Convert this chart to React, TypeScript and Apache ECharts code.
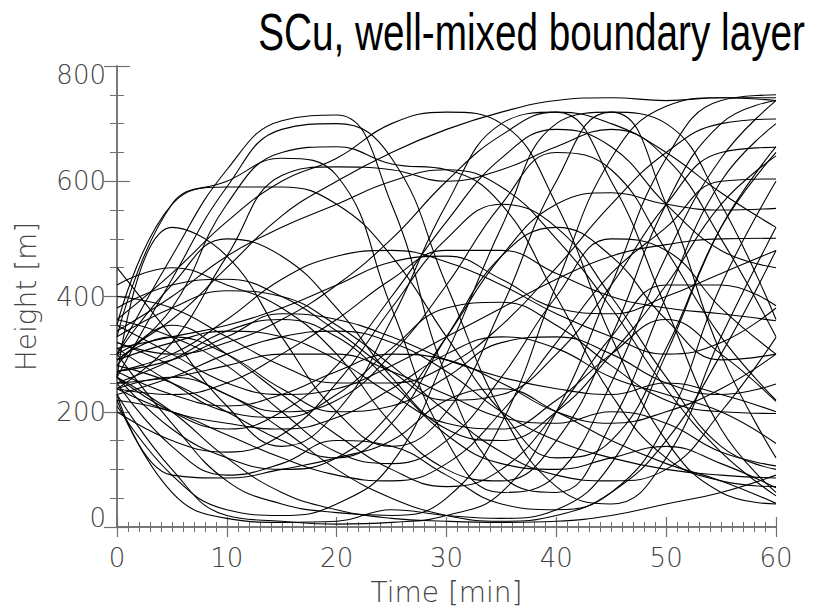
import React, { useEffect, useRef } from "react";
import * as echarts from "echarts";

const times = [0, 5, 10, 15, 20, 25, 30, 35, 40, 45, 50, 55, 60];
const xTicks = [0, 10, 20, 30, 40, 50, 60];
const yTicks = [0, 200, 400, 600, 800];

const tr01 = [300, 470, 620, 705, 715, 560, 260, 90, 60, 180, 400, 600, 700];
const tr02 = [260, 430, 590, 690, 700, 640, 420, 200, 70, 40, 120, 330, 520];
const tr03 = [330, 560, 600, 640, 610, 380, 150, 60, 90, 250, 470, 640, 740];
const tr04 = [290, 380, 560, 650, 660, 630, 620, 560, 400, 230, 120, 80, 70];
const tr05 = [240, 320, 470, 610, 625, 620, 600, 620, 660, 690, 640, 500, 330];
const tr06 = [350, 560, 590, 590, 560, 470, 330, 200, 120, 150, 310, 520, 650];
const tr07 = [260, 520, 470, 330, 200, 140, 200, 380, 600, 720, 700, 560, 360];
const tr08 = [230, 100, 20, 10, 5, 8, 20, 60, 200, 420, 640, 740, 750];
const tr09 = [220, 60, 15, 8, 10, 30, 20, 15, 30, 110, 300, 520, 660];
const tr10 = [250, 140, 90, 110, 150, 140, 90, 40, 30, 60, 180, 420, 600];
const tr11 = [210, 90, 30, 20, 40, 110, 300, 520, 700, 720, 560, 300, 120];
const tr12 = [300, 180, 80, 40, 25, 20, 50, 180, 420, 640, 730, 745, 745];
const tr13 = [280, 250, 200, 150, 120, 180, 330, 470, 520, 470, 360, 290, 300];
const tr14 = [310, 330, 350, 380, 420, 460, 470, 430, 380, 370, 400, 440, 480];
const tr15 = [270, 290, 330, 370, 360, 330, 290, 260, 240, 230, 250, 230, 200];
const tr16 = [240, 200, 180, 170, 190, 240, 300, 330, 310, 260, 230, 200, 145];
const tr17 = [420, 450, 420, 380, 300, 180, 100, 80, 150, 330, 560, 700, 740];
const tr18 = [450, 330, 210, 140, 200, 360, 560, 700, 720, 600, 380, 170, 60];
const tr19 = [360, 440, 530, 600, 640, 700, 720, 700, 560, 330, 150, 60, 40];
const tr20 = [300, 360, 450, 540, 600, 650, 690, 720, 740, 745, 740, 745, 740];
const tr21 = [270, 300, 360, 430, 470, 480, 460, 420, 370, 330, 300, 320, 380];
const tr22 = [230, 260, 300, 330, 340, 320, 270, 200, 150, 120, 100, 90, 85];
const tr23 = [320, 280, 230, 200, 220, 300, 420, 560, 650, 620, 480, 330, 220];
const tr24 = [260, 170, 120, 100, 120, 200, 330, 470, 560, 580, 560, 550, 553];
const tr25 = [200, 150, 130, 160, 250, 380, 500, 560, 520, 400, 260, 140, 100];
const tr26 = [350, 300, 250, 230, 240, 280, 330, 380, 430, 470, 490, 500, 501];
const tr27 = [290, 330, 300, 240, 200, 210, 260, 320, 330, 300, 250, 230, 248];
const tr28 = [380, 420, 430, 400, 340, 270, 220, 230, 300, 420, 560, 650, 659];
const tr29 = [240, 230, 250, 300, 360, 430, 480, 480, 440, 400, 380, 370, 358];
const tr30 = [330, 380, 410, 400, 350, 280, 200, 130, 90, 80, 100, 200, 329];
const tr31 = [260, 200, 170, 200, 280, 400, 530, 640, 690, 660, 560, 480, 450];
const tr32 = [280, 350, 300, 230, 160, 100, 70, 100, 200, 330, 420, 420, 384];
const tr33 = [310, 250, 200, 190, 230, 310, 380, 390, 350, 280, 220, 200, 197];
const tr34 = [250, 290, 340, 360, 330, 250, 160, 110, 100, 120, 140, 110, 68];
const tr35 = [300, 420, 500, 470, 380, 260, 170, 150, 200, 300, 420, 560, 644];
const tr36 = [340, 400, 470, 520, 560, 600, 620, 590, 500, 380, 240, 130, 54];
const tr37 = [230, 90, 85, 100, 120, 150, 220, 240, 200, 150, 110, 80, 41];
const tr38 = [270, 230, 210, 230, 270, 300, 290, 250, 200, 180, 200, 240, 300];
const tr39 = [400, 380, 330, 280, 250, 250, 280, 350, 450, 560, 650, 700, 708];
const tr40 = [220, 200, 160, 120, 90, 80, 110, 200, 320, 440, 520, 600, 604];
const tr41 = [290, 320, 340, 330, 290, 230, 180, 170, 220, 300, 360, 300, 218];
const tr42 = [360, 330, 280, 200, 130, 110, 150, 260, 400, 500, 480, 380, 300];
const tr43 = [250, 260, 280, 300, 300, 270, 230, 190, 180, 200, 180, 130, 106];
const tr44 = [320, 300, 320, 360, 420, 500, 600, 680, 720, 700, 650, 580, 520];
const tr45 = [260, 200, 120, 60, 30, 15, 10, 8, 10, 20, 40, 60, 90];
const tr46 = [240, 260, 230, 170, 100, 50, 20, 10, 20, 60, 150, 300, 480];

const trajectories = [
  tr01, tr02, tr03, tr04, tr05, tr06, tr07, tr08, tr09, tr10, tr11, tr12,
  tr13, tr14, tr15, tr16, tr17, tr18, tr19, tr20, tr21, tr22, tr23, tr24,
  tr25, tr26, tr27, tr28, tr29, tr30, tr31, tr32, tr33, tr34, tr35, tr36,
  tr37, tr38, tr39, tr40, tr41, tr42, tr43, tr44, tr45, tr46,
];

const titleText = "SCu, well-mixed boundary layer";
const labelFont = "'DejaVu Sans', 'Noto Sans', sans-serif";
const axisGray = "#707070";
const labelGray = "#444444";

export default function App() {
  const ref = useRef<HTMLDivElement>(null);
  useEffect(() => {
    if (!ref.current) return;
    const chart = echarts.init(ref.current, undefined, { renderer: "svg" });
    const commonLine = { show: true, lineStyle: { color: axisGray, width: 1.5 } };
    const labelStyle = { fontFamily: labelFont, fontWeight: 200, fontSize: 26, color: labelGray };
    const option = {
      animation: false,
      backgroundColor: "#ffffff",
      graphic: [
        {
          type: "text",
          x: 805,
          y: 32,
          scaleX: 0.745,
          silent: true,
          style: {
            text: titleText,
            textAlign: "right",
            textVerticalAlign: "middle",
            fontFamily: "'Liberation Sans', Arial, sans-serif",
            fontSize: 52,
            fill: "#000000",
          },
        },
      ],
      grid: { left: 117, right: 37, top: 66, bottom: 79, containLabel: false },
      xAxis: [
        {
          type: "value",
          position: "bottom",
          min: 0,
          max: 60,
          interval: 10,
          name: "Time [min]",
          nameLocation: "middle",
          nameGap: 51,
          nameTextStyle: { ...labelStyle, fontSize: 28 },
          axisLine: commonLine,
          axisTick: { show: true, inside: true, length: 10, lineStyle: { color: axisGray, width: 1.2 } },
          minorTick: { show: true, splitNumber: 10, length: 5, lineStyle: { color: axisGray, width: 1 } },
          splitLine: { show: false },
          axisLabel: {
            ...labelStyle,
            margin: 18,
            formatter: (v: number) => (xTicks.includes(v) ? String(v) : ""),
          },
        },
        {
          type: "value",
          position: "top",
          min: 0,
          max: 60,
          interval: 10,
          axisLine: commonLine,
          axisTick: { show: true, inside: true, length: 10, lineStyle: { color: axisGray, width: 1.2 } },
          minorTick: { show: true, splitNumber: 10, length: 5, lineStyle: { color: axisGray, width: 1 } },
          splitLine: { show: false },
          axisLabel: { show: false },
        },
      ],
      yAxis: [
        {
          type: "value",
          position: "left",
          min: 0,
          max: 800,
          interval: 200,
          name: "Height [m]",
          nameLocation: "middle",
          nameGap: 77,
          nameTextStyle: { ...labelStyle, fontSize: 28 },
          axisLine: commonLine,
          axisTick: { show: true, inside: true, length: 13, lineStyle: { color: axisGray, width: 1.2 } },
          minorTick: { show: true, splitNumber: 4, length: 7, lineStyle: { color: axisGray, width: 1 } },
          splitLine: { show: false },
          axisLabel: {
            ...labelStyle,
            margin: 11,
            formatter: (v: number) => {
              if (!yTicks.includes(v)) return "";
              if (v === 0) return "{b|0}";
              if (v === 800) return "{t|800}";
              return String(v);
            },
            rich: {
              b: { ...labelStyle, padding: [0, 0, 18, 0] },
              t: { ...labelStyle, padding: [18, 0, 0, 0] },
            },
          },
        },
        {
          type: "value",
          position: "right",
          min: 0,
          max: 800,
          interval: 200,
          axisLine: commonLine,
          axisTick: { show: true, inside: true, length: 13, lineStyle: { color: axisGray, width: 1.2 } },
          minorTick: { show: true, splitNumber: 4, length: 7, lineStyle: { color: axisGray, width: 1 } },
          splitLine: { show: false },
          axisLabel: { show: false },
        },
      ],
      series: trajectories.map((tr, k) => ({
        type: "line",
        name: "p" + (k + 1),
        xAxisIndex: 0,
        yAxisIndex: 0,
        data: times.map((t, i) => [t, tr[i]]),
        showSymbol: false,
        smooth: 0.45,
        silent: true,
        clip: true,
        lineStyle: { color: "#000000", width: 1.1 },
      })),
    };
    chart.setOption(option as any);
    return () => chart.dispose();
  }, []);
  return (
    <div
      ref={ref}
      style={{ position: "fixed", left: 0, top: 0, width: 813, height: 611 }}
    />
  );
}
